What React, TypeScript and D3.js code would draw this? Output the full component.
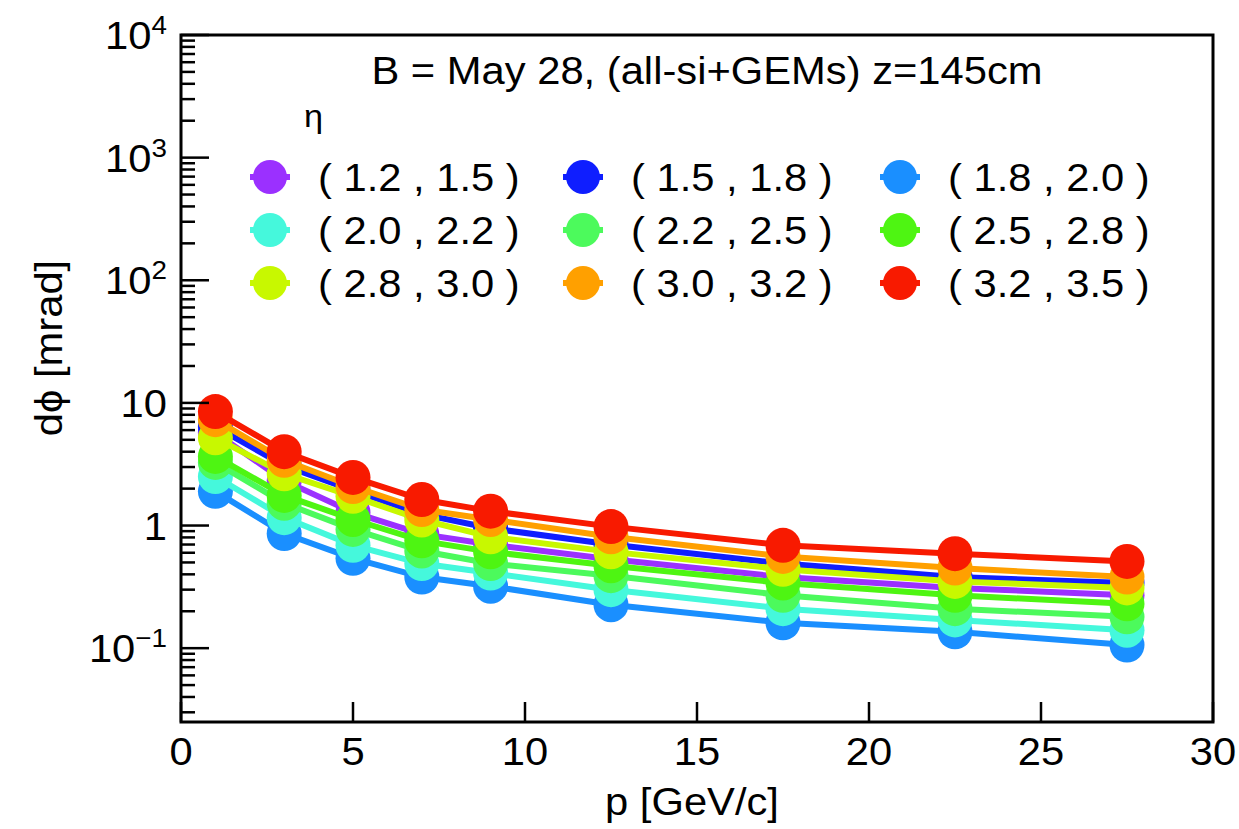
import React from "react";
import * as d3 from "d3";

const W = 1239;
const H = 829;

// momentum bins (x values)
const pValues = [1, 3, 5, 7, 9, 12.5, 17.5, 22.5, 27.5];

// eta bins
const etaLabels = [
  "( 1.2 , 1.5 )",
  "( 1.5 , 1.8 )",
  "( 1.8 , 2.0 )",
  "( 2.0 , 2.2 )",
  "( 2.2 , 2.5 )",
  "( 2.5 , 2.8 )",
  "( 2.8 , 3.0 )",
  "( 3.0 , 3.2 )",
  "( 3.2 , 3.5 )",
];

const etaColors = [
  "#9b30ff",
  "#0f1eff",
  "#1a8fff",
  "#45f8dc",
  "#4cfa5c",
  "#4ef512",
  "#c8f800",
  "#ffa000",
  "#f81a00",
];

// dphi [mrad] per eta bin
const eta12_15 = [5.7, 2.32, 1.28, 0.85, 0.7, 0.53, 0.38, 0.31, 0.27];
const eta15_18 = [6.4, 3.08, 1.93, 1.24, 0.95, 0.7, 0.49, 0.38, 0.34];
const eta18_20 = [1.9, 0.86, 0.54, 0.38, 0.32, 0.226, 0.161, 0.136, 0.106];
const eta20_22 = [2.51, 1.16, 0.69, 0.49, 0.41, 0.3, 0.21, 0.17, 0.14];
const eta22_25 = [3.27, 1.52, 0.93, 0.62, 0.49, 0.39, 0.27, 0.21, 0.18];
const eta25_28 = [3.66, 1.76, 1.12, 0.75, 0.61, 0.47, 0.34, 0.27, 0.23];
const eta28_30 = [5.2, 2.64, 1.73, 1.11, 0.81, 0.61, 0.44, 0.35, 0.31];
const eta30_32 = [7.3, 3.4, 2.08, 1.35, 1.12, 0.81, 0.56, 0.45, 0.38];
const eta32_35 = [8.5, 4.0, 2.47, 1.63, 1.31, 0.98, 0.69, 0.59, 0.51];

const seriesValues = [
  eta12_15,
  eta15_18,
  eta18_20,
  eta20_22,
  eta22_25,
  eta25_28,
  eta28_30,
  eta30_32,
  eta32_35,
];

const xTicks = [0, 5, 10, 15, 20, 25, 30];
const yDecades = [-1, 0, 1, 2, 3, 4];

const titleText = "B = May 28, (all-si+GEMs) z=145cm";
const xTitle = "p [GeV/c]";
const yTitle = "dϕ [mrad]";
const legendHeader = "η";

const FONT = "'Liberation Sans', Arial, Helvetica, sans-serif";
const FS = 39;
const SX = 1.07;

const L = 181, R = 1213, T = 35, B = 722;

function T_({ x, y, anchor = "start", size = FS, children }: any) {
  const tr = `translate(${x},${y}) scale(${SX},1)`;
  return (
    <text transform={tr} textAnchor={anchor} fontFamily={FONT} fontSize={size} fill="#000">
      {children}
    </text>
  );
}

export default function App() {
  const x = d3.scaleLinear().domain([0, 30]).range([L, R]);
  const y = d3.scaleLog().domain([0.025, 10000]).range([B, T]);
  const line = d3
    .line<[number, number]>()
    .x((d) => x(d[0]))
    .y((d) => y(d[1]));

  const minorY: number[] = [];
  for (let k = -2; k <= 3; k++) {
    for (let m = 2; m <= 9; m++) {
      const v = m * Math.pow(10, k);
      if (v >= 0.025 && v <= 10000) minorY.push(v);
    }
  }

  const yLabel = (k: number) => {
    if (k === 0) return <tspan>1</tspan>;
    if (k === 1) return <tspan>10</tspan>;
    const e = k < 0 ? "\u2212" + Math.abs(k) : String(k);
    return (
      <>
        <tspan>10</tspan>
        <tspan fontSize={26} dy={-15}>{e}</tspan>
      </>
    );
  };

  const legendCols = [0, 313, 630];
  const legendRows = [177, 230, 283];

  return (
    <svg
      width={W}
      height={H}
      style={{ position: "absolute", left: 0, top: 0, background: "#fff" }}
    >
      <rect x={0} y={0} width={W} height={H} fill="#fff" />
      {/* series */}
      {seriesValues.map((vals, i) => {
        const pts = pValues.map((p, j) => [p, vals[j]] as [number, number]);
        return (
          <g key={i}>
            <path d={line(pts) || ""} fill="none" stroke={etaColors[i]} strokeWidth={6} />
            {pts.map((d, j) => (
              <circle key={j} cx={x(d[0])} cy={y(d[1])} r={17.5} fill={etaColors[i]} />
            ))}
          </g>
        );
      })}

      {/* frame */}
      <rect x={L} y={T} width={R - L} height={B - T} fill="none" stroke="#000" strokeWidth={3} />

      {/* y ticks */}
      {yDecades.map((k) => (
        <line key={"M" + k} x1={L} x2={L + 28} y1={y(Math.pow(10, k))} y2={y(Math.pow(10, k))} stroke="#000" strokeWidth={2.5} />
      ))}
      {minorY.map((v, i) => (
        <line key={"m" + i} x1={L} x2={L + 14} y1={y(v)} y2={y(v)} stroke="#000" strokeWidth={2.5} />
      ))}
      {yDecades.map((k) => (
        <T_ key={"yl" + k} x={167} y={y(Math.pow(10, k)) + 14} anchor="end">
          {yLabel(k)}
        </T_>
      ))}

      {/* x ticks */}
      {xTicks.map((t) => (
        <line key={"xt" + t} x1={x(t)} x2={x(t)} y1={B} y2={B - 20} stroke="#000" strokeWidth={2.5} />
      ))}
      {xTicks.map((t) => (
        <T_ key={"xl" + t} x={x(t)} y={765} anchor="middle">
          {t}
        </T_>
      ))}

      {/* axis titles */}
      <T_ x={(L + R) / 2 - 5} y={815} anchor="middle">{xTitle}</T_>
      <text
        transform={`translate(62,348) rotate(-90) scale(${SX},1)`}
        textAnchor="middle"
        fontFamily={FONT}
        fontSize={FS}
      >
        {yTitle}
      </text>

      {/* title */}
      <T_ x={707} y={84} anchor="middle">{titleText}</T_>

      {/* legend */}
      <T_ x={304} y={127} size={32}>{legendHeader}</T_>
      {etaLabels.map((lab, i) => {
        const cx = 270 + legendCols[i % 3];
        const cy = legendRows[Math.floor(i / 3)];
        return (
          <g key={"lg" + i}>
            <line x1={cx - 20} x2={cx + 20} y1={cy} y2={cy} stroke={etaColors[i]} strokeWidth={6} />
            <circle cx={cx} cy={cy} r={17} fill={etaColors[i]} />
            <T_ x={cx + 48} y={cy + 14}>{lab}</T_>
          </g>
        );
      })}
    </svg>
  );
}
